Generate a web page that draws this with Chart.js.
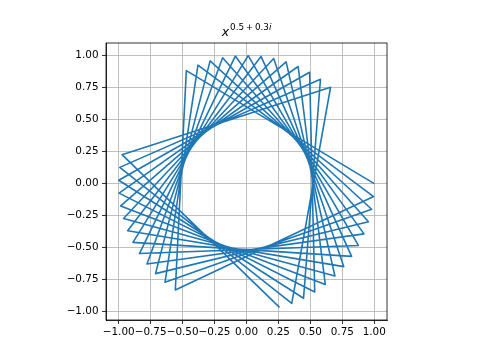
<!DOCTYPE html>
<html><head><meta charset="utf-8">
<script src="https://cdn.jsdelivr.net/npm/chart.js@4/dist/chart.umd.min.js"></script>
<style>html,body{margin:0;padding:0;background:#fff}canvas{display:block}</style>
</head><body>
<canvas id="c" width="480" height="360"></canvas>
<script>
// Title parts: base, exponent, italic exponent variable
const titleBase = "x";
const titleExp = "0.5\u2009+\u20090.3";
const titleExpVar = "i";

// Tick values
const xTicks = [-1.0, -0.75, -0.5, -0.25, 0.0, 0.25, 0.5, 0.75, 1.0];
const yTicks = [-1.0, -0.75, -0.5, -0.25, 0.0, 0.25, 0.5, 0.75, 1.0];
const xLimits = [-1.0996, 1.1];
const yLimits = [-1.0646, 1.0982];

// Vertices of the path, in three groups (right, top, left)
const rightX = [1.0, 0.9949, 0.9798, 0.9547, 0.9199, 0.8759, 0.8230, 0.7617, 0.6925, 0.6168, 0.5344, 0.4467, 0.3545, 0.2587];
const rightY = [0.0, -0.1005, -0.2000, -0.2975, -0.3920, -0.4826, -0.5681, -0.6479, -0.7214, -0.7871, -0.8453, -0.8947, -0.9351, -0.9660];
const topX = [-0.4707, -0.3796, -0.2847, -0.1869, -0.0872, 0.0134, 0.1139, 0.2132, 0.3103, 0.4044, 0.4942, 0.5791, 0.6584];
const topY = [0.8823, 0.9251, 0.9586, 0.9824, 0.9962, 0.9999, 0.9935, 0.9770, 0.9506, 0.9146, 0.8693, 0.8153, 0.7527];
const leftX = [-0.5570, -0.6376, -0.7118, -0.7790, -0.8379, -0.8885, -0.9302, -0.9624, -0.9848, -0.9973, -0.9996, -0.9919, -0.9740];
const leftY = [-0.8305, -0.7704, -0.7024, -0.6272, -0.5458, -0.4588, -0.3671, -0.2718, -0.1736, -0.0738, 0.0269, 0.1272, 0.2263];

// Build the path: right, top, left, right, top, left, ...
const pathPoints = [];
for (let j = 0; j < rightX.length; j++) {
  pathPoints.push({x: rightX[j], y: rightY[j]});
  if (j < topX.length) pathPoints.push({x: topX[j], y: topY[j]});
  if (j < leftX.length) pathPoints.push({x: leftX[j], y: leftY[j]});
}

const fmt = v => (v < 0 ? "\u2212" : "") + Math.abs(v).toFixed(2);
const FONT = "'DejaVu Sans', sans-serif";

const framePlugin = {
  id: 'frame',
  afterDraw(chart) {
    const {ctx, chartArea: a} = chart;
    ctx.save();
    ctx.strokeStyle = '#000';
    ctx.lineWidth = 0.8;
    ctx.strokeRect(a.left, a.top, a.right - a.left, a.bottom - a.top);
    // title
    const cx = (a.left + a.right) / 2;
    const baseY = a.top - 7;
    ctx.fillStyle = '#000';
    ctx.textBaseline = 'alphabetic';
    ctx.textAlign = 'left';
    const fBase = "italic 12.5px 'DejaVu Sans'";
    const fExp = "8.8px 'DejaVu Sans'";
    const fExpI = "italic 8.8px 'DejaVu Sans'";
    ctx.font = fBase; const w1 = ctx.measureText(titleBase).width;
    ctx.font = fExp; const w2 = ctx.measureText(titleExp).width;
    ctx.font = fExpI; const w3 = ctx.measureText(titleExpVar).width;
    const gap = 1;
    const total = w1 + gap + w2 + w3;
    let x0 = cx - total / 2;
    ctx.font = fBase; ctx.fillText(titleBase, x0, baseY);
    x0 += w1 + gap;
    ctx.font = fExp; ctx.fillText(titleExp, x0, baseY - 6.5);
    x0 += w2;
    ctx.font = fExpI; ctx.fillText(titleExpVar, x0, baseY - 6.5);
    ctx.restore();
  }
};

new Chart(document.getElementById('c'), {
  type: 'scatter',
  data: {
    datasets: [{
      data: pathPoints,
      showLine: true,
      borderColor: '#1f77b4',
      borderWidth: 1.6,
      borderJoinStyle: 'round',
      borderCapStyle: 'butt',
      pointRadius: 0,
      pointHoverRadius: 0,
      fill: false,
      tension: 0
    }]
  },
  options: {
    responsive: false,
    animation: false,
    devicePixelRatio: 1,
    events: [],
    layout: {padding: {left: 0, top: 43, right: 93, bottom: 0}},
    plugins: {legend: {display: false}, tooltip: {enabled: false}, title: {display: false}},
    scales: {
      x: {
        type: 'linear', position: 'bottom',
        min: xLimits[0], max: xLimits[1],
        afterBuildTicks: s => { s.ticks = xTicks.map(v => ({value: v})); },
        afterFit: s => { s.height = 40; },
        grid: {color: '#b0b0b0', lineWidth: 0.8, drawTicks: true, tickLength: 4, tickColor: '#000', tickWidth: 0.8},
        border: {display: true, color: '#000', width: 0.8},
        ticks: {color: '#000', font: {family: FONT, size: 10.4}, padding: 2, maxRotation: 0, autoSkip: false, callback: v => fmt(v)}
      },
      y: {
        type: 'linear', position: 'left',
        min: yLimits[0], max: yLimits[1],
        afterBuildTicks: s => { s.ticks = yTicks.map(v => ({value: v})); },
        afterFit: s => { s.width = 106; },
        grid: {color: '#b0b0b0', lineWidth: 0.8, drawTicks: true, tickLength: 4, tickColor: '#000', tickWidth: 0.8},
        border: {display: true, color: '#000', width: 0.8},
        ticks: {color: '#000', font: {family: FONT, size: 10.4}, padding: 3.5, autoSkip: false, callback: v => fmt(v)}
      }
    }
  },
  plugins: [framePlugin]
});
</script>
</body></html>
